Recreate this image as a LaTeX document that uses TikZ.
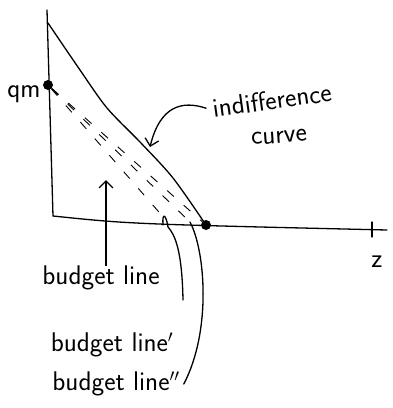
\documentclass[tikz,border=0pt]{standalone}
\usetikzlibrary{arrows.meta}

\begin{document}
\begin{tikzpicture}[
    x=1pt, y=-1pt,
    lbl/.style={font=\sffamily\fontsize{27}{30}\selectfont, inner sep=0pt},
    dotpt/.style={circle, fill=black, inner sep=0pt, minimum size=10pt},
    axis/.style={line width=1.3pt, line cap=round},
    indiff/.style={line width=1.3pt, line cap=round},
    budget/.style={line width=0.9pt, dash pattern=on 9pt off 13pt},
    flow/.style={-{Straight Barb[length=7pt,width=14pt]}, line width=1.3pt},
    ptr/.style={line width=1.3pt, line cap=round},
]
\useasboundingbox (0,0) rectangle (393,408);

% ---- Axes ---------------------------------------------------------------------
\coordinate (ytop) at (47,10);
\coordinate (orig) at (53,216);
\coordinate (xend) at (387,230);
\draw[axis] (ytop) -- (orig) .. controls (130,224) .. (xend);
\draw[axis] (372,222) -- (372,237);
\node[lbl] (zlbl) at (377,262) {z};

% ---- Corner points --------------------------------------------------------------
\node[dotpt] (qm) at (48,85) {};
\node[dotpt] (zint) at (206,225) {};
\node[lbl] (qmlbl) at (24,94) {qm};

% ---- Indifference curve ---------------------------------------------------------
\draw[indiff] plot[smooth, tension=0.5] coordinates
    {(48,23) (80,70) (107,108) (140,142) (173,178) (206,225)};

% ---- Budget lines (sketched, dashed) ----------------------------------------------
\coordinate (bend1) at (165,219);
\coordinate (bend2) at (190,222);
\draw[budget] (qm) -- (bend1);
\draw[budget] (qm) -- (bend2);
\draw[budget] (qm) -- (zint);

% ---- Labels -------------------------------------------------------------------------
\node[lbl, rotate=8] (indlbl) at (272,100) {indifference};
\node[lbl, rotate=4] (curvelbl) at (279,137) {curve};
\node[lbl] (bl0) at (101,278) {budget line};
\node[lbl] (bl1) at (112,345) {budget line$'$};
\node[lbl] (bl2) at (116,384) {budget line$''$};

% ---- Pointers -------------------------------------------------------------------------
\coordinate (indtip) at (150,147);
\coordinate (bl0tip) at (106,180);
\draw[flow] ([xshift=-6pt]indlbl.west) .. controls (182,100) and (160,106) .. (indtip);
\draw[flow] (bl0.north -| bl0tip) -- (bl0tip);
\draw[ptr] (183,300) .. controls (182,250) and (175,235) .. (168,227)
    .. controls (166,214) and (162,212) .. (163,225);
\draw[ptr] ([xshift=4pt]bl2.east) .. controls (212,330) and (205,250) .. (bend2);

\end{tikzpicture}
\end{document}
